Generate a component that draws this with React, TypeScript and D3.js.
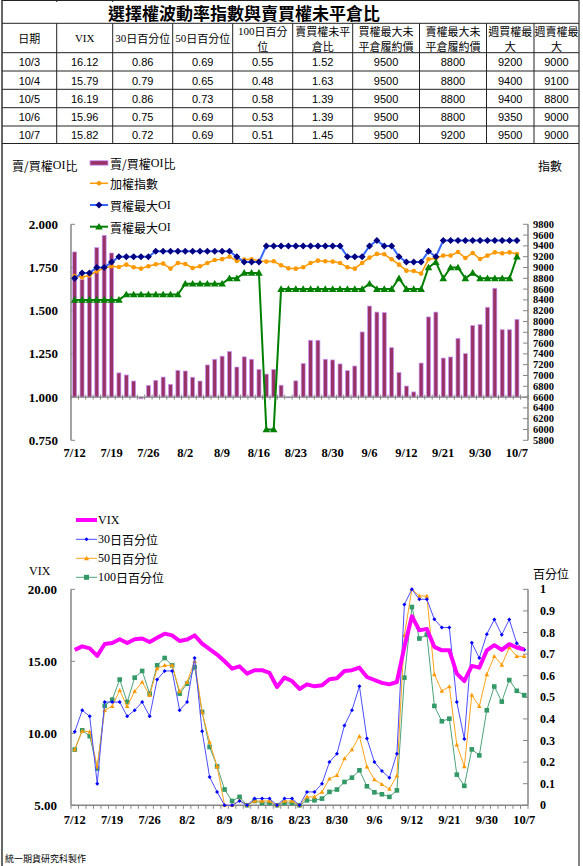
import React from 'react';
import * as d3 from 'd3';

// ---------- table data ----------
const tableHeaders: string[][] = [
  ['日期'], ['VIX'], ['30日百分位'], ['50日百分位'], ['100日百分', '位'],
  ['賣買權未平', '倉比'], ['買權最大未', '平倉履約價'], ['賣權最大未', '平倉履約價'], ['週買權最', '大'], ['週賣權最', '大'],
];
const tableDates = ['10/3', '10/4', '10/5', '10/6', '10/7'];
const tableVix = [16.12, 15.79, 16.19, 15.96, 15.82];
const table30 = [0.86, 0.79, 0.86, 0.75, 0.72];
const table50 = [0.69, 0.65, 0.73, 0.69, 0.69];
const table100 = [0.55, 0.48, 0.58, 0.53, 0.51];
const tableRatio = [1.52, 1.63, 1.39, 1.39, 1.45];
const tableCallMax = [9500, 9500, 9500, 9500, 9500];
const tablePutMax = [8800, 8800, 8800, 8800, 9200];
const tableWeekCall = [9200, 9400, 9400, 9350, 9500];
const tableWeekPut = [9000, 9100, 8800, 9000, 9000];

// ---------- series data ----------
const dates = ['7/12','7/13','7/14','7/15','7/18','7/19','7/20','7/21','7/22','7/25','7/26','7/27','7/28','7/29',
  '8/1','8/2','8/3','8/4','8/5','8/8','8/9','8/10','8/11','8/12','8/15','8/16','8/17','8/18','8/19','8/22','8/23',
  '8/24','8/25','8/26','8/29','8/30','8/31','9/1','9/2','9/5','9/6','9/7','9/8','9/9','9/10','9/12','9/13','9/14',
  '9/19','9/20','9/21','9/22','9/23','9/26','9/29','9/30','10/3','10/4','10/5','10/6','10/7'];
const tickLabels = ['7/12','7/19','7/26','8/2','8/9','8/16','8/23','8/30','9/6','9/12','9/21','9/30','10/7'];

const putCallRatio = [1.84,1.68,1.695,1.865,1.936,1.834,1.14,1.128,1.093,0.99,1.068,1.097,1.116,1.074,1.155,1.151,
  1.115,1.093,1.186,1.219,1.237,1.264,1.174,1.233,1.219,1.16,1.133,1.16,1.069,0.996,1.094,1.194,1.329,1.329,1.219,
  1.215,1.192,1.153,1.18,1.377,1.527,1.492,1.489,1.286,1.142,1.064,1.03,1.197,1.464,1.492,1.226,1.232,1.34,1.252,
  1.414,1.42,1.52,1.63,1.39,1.39,1.45];
const taiex = [8843,8818,8855,8930,8991,9022,9010,9053,9004,8980,9022,9059,9072,8980,9084,9065,8991,9022,9084,9139,
  9155,9200,9121,9146,9152,9121,9109,9115,9041,8985,8979,9004,9084,9127,9115,9109,9084,9004,8979,9084,9183,9252,
  9244,9152,9053,8942,8936,8887,9152,9170,9220,9220,9287,9176,9269,9157,9220,9281,9263,9281,9250];
const callMaxOI = [8800,8900,8900,9000,9000,9100,9200,9200,9200,9200,9200,9300,9300,9300,9300,9300,9300,9300,9300,
  9300,9300,9300,9200,9100,9100,9100,9400,9400,9400,9400,9400,9400,9400,9400,9400,9400,9400,9200,9200,9200,9400,
  9500,9400,9400,9200,9100,9100,9100,9300,9200,9500,9500,9500,9500,9500,9500,9500,9500,9500,9500,9500];
const putMaxOI = [8400,8400,8400,8400,8400,8400,8400,8500,8500,8500,8500,8500,8500,8500,8500,8700,8700,8700,8700,
  8700,8700,8800,8800,8900,8900,8900,6000,6000,8600,8600,8600,8600,8600,8600,8600,8600,8600,8600,8600,8600,8700,
  8600,8600,8600,8800,8600,8600,8600,9000,9100,8800,9000,9000,8800,8900,8800,8800,8800,8800,8800,9200];

const vix = [15.79,16.04,15.9,15.38,16.2,16.27,16.53,16.27,16.53,16.58,16.34,16.63,16.92,16.8,16.41,16.51,16.8,
  16.23,15.84,15.47,15.0,14.49,14.65,14.14,14.38,14.38,14.19,13.22,13.87,13.63,13.08,13.4,13.26,13.33,13.75,13.82,
  14.33,14.38,14.56,13.91,13.7,13.5,13.4,13.56,16.0,18.13,17.15,17.25,16.0,15.76,15.76,14.14,13.63,14.68,14.56,
  15.76,16.12,15.79,16.19,15.96,15.82];
const pct30 = [0.34,0.44,0.412,0.10,0.478,0.478,0.478,0.412,0.44,0.478,0.412,0.582,0.622,0.622,0.44,0.478,0.682,
  0.343,0.131,0.062,0,0,0.02,0,0.031,0.031,0.031,0,0.031,0.031,0,0.062,0.062,0.1,0.2,0.239,0.37,0.44,0.551,0.309,
  0.2,0.159,0.128,0.239,0.93,1.0,0.954,0.954,0.861,0.823,0.823,0.478,0.307,0.752,0.682,0.792,0.86,0.79,0.86,0.75,0.72];
const pct50 = [0.258,0.344,0.34,0.178,0.44,0.458,0.532,0.458,0.528,0.571,0.509,0.633,0.648,0.648,0.528,0.571,0.667,
  0.432,0.293,0.18,0,0,0.023,0,0.02,0.02,0.02,0,0.02,0.02,0,0.039,0.039,0.062,0.123,0.139,0.216,0.258,0.32,0.178,
  0.119,0.097,0.075,0.137,0.787,1.0,0.969,0.969,0.606,0.529,0.55,0.28,0.18,0.51,0.458,0.606,0.69,0.65,0.73,0.69,0.69];
const pct100 = [0.258,0.347,0.32,0.17,0.461,0.489,0.582,0.478,0.591,0.622,0.517,0.648,0.682,0.648,0.517,0.563,0.64,
  0.432,0.27,0.18,0.073,0.02,0.039,0,0.02,0.011,0.011,0,0.011,0.011,0,0.023,0.023,0.031,0.062,0.073,0.108,0.128,
  0.162,0.088,0.06,0.051,0.039,0.069,0.591,0.918,0.772,0.79,0.46,0.389,0.401,0.142,0.09,0.259,0.231,0.44,0.55,0.48,
  0.58,0.53,0.51];

const leftTicksTop = [0.75, 1.0, 1.25, 1.5, 1.75, 2.0];
const rightTicksTop = d3.range(5800, 9801, 200);
const leftTicksBot = [5, 10, 15, 20];
const rightTicksBot = d3.range(0, 11).map((d) => d / 10);

const CJK = "'Noto Sans CJK TC', 'Noto Sans CJK SC', sans-serif";
const SERIF = "'Liberation Serif', 'Times New Roman', serif";
const SANS = "'Liberation Sans', Arial, sans-serif";
const GRAY = '#868686';

const colX = [2, 56.7, 112.7, 172.7, 232.7, 292.7, 352.7, 419.5, 486.5, 534, 579];
const rowY = [23.3, 52.7, 71, 89.3, 107.7, 126, 143.5];

function Diamond({ x, y, r, fill }: { x: number; y: number; r: number; fill: string }) {
  return <path d={`M${x},${y - r}L${x + r},${y}L${x},${y + r}L${x - r},${y}Z`} fill={fill} />;
}
function Tri({ x, y, r, fill }: { x: number; y: number; r: number; fill: string }) {
  return <path d={`M${x},${y - r}L${x + r},${y + r * 0.75}L${x - r},${y + r * 0.75}Z`} fill={fill} />;
}
// CJK text with latin runs set in serif
function Mixed({ text }: { text: string }) {
  const parts = text.split(/([A-Za-z0-9]+)/).filter((p) => p.length > 0);
  return (
    <>
      {parts.map((p, i) =>
        /^[A-Za-z0-9]+$/.test(p) ? <tspan key={i} fontFamily={SERIF}>{p}</tspan> : <tspan key={i}>{p}</tspan>
      )}
    </>
  );
}

export default function App() {
  const rows = tableDates.map((d, i) => [
    d, tableVix[i].toFixed(2), table30[i].toFixed(2), table50[i].toFixed(2), table100[i].toFixed(2),
    tableRatio[i].toFixed(2), String(tableCallMax[i]), String(tablePutMax[i]), String(tableWeekCall[i]), String(tableWeekPut[i]),
  ]);

  const xT = d3.scaleBand<number>().domain(d3.range(62)).range([71, 528]);
  const bwT = xT.bandwidth();
  const cxT = (i: number) => (xT(i) as number) + bwT / 2;
  const yL = d3.scaleLinear().domain([0.75, 2]).range([440.3, 224.3]);
  const yR = d3.scaleLinear().domain([5800, 9800]).range([440.3, 224.3]);
  const lineR = d3.line<number>().x((_, i) => cxT(i)).y((d) => yR(d));

  const xB = d3.scaleBand<number>().domain(d3.range(61)).range([71, 528]);
  const bwB = xB.bandwidth();
  const cxB = (i: number) => (xB(i) as number) + bwB / 2;
  const yV = d3.scaleLinear().domain([5, 20]).range([805.3, 589.3]);
  const yP = d3.scaleLinear().domain([0, 1]).range([805.3, 589.3]);
  const lineV = d3.line<number>().x((_, i) => cxB(i)).y((d) => yV(d));
  const lineP = d3.line<number>().x((_, i) => cxB(i)).y((d) => yP(d));

  const base = yL(1);

  return (
    <svg width={583} height={866} style={{ position: 'absolute', left: 0, top: 0, background: '#fff' }}>
      <rect x={0} y={0} width={583} height={866} fill="#fff" />
      {/* ---------- table ---------- */}
      <g>
        <line x1={2} x2={579} y1={0.5} y2={0.5} stroke="#222" />
        {rowY.map((y, i) => (
          <line key={i} x1={2} x2={579} y1={y} y2={y} stroke="#222" strokeWidth={1} />
        ))}
        {colX.slice(1, -1).map((x, i) => (
          <line key={i} x1={x} x2={x} y1={rowY[0]} y2={rowY[rowY.length - 1]} stroke="#222" />
        ))}
        {colX.slice(1, 3).map((x, i) => (
          <line key={'t' + i} x1={x} x2={x} y1={0} y2={2} stroke="#222" />
        ))}
        <text x={244} y={12} fontFamily={CJK} fontSize={17} fontWeight={700} textAnchor="middle" dominantBaseline="central" fill="#000">
          選擇權波動率指數與賣買權未平倉比
        </text>
        {tableHeaders.map((lines, c) => {
          const cx = (colX[c] + colX[c + 1]) / 2;
          const cy = (rowY[0] + rowY[1]) / 2;
          return lines.map((t, k) => {
            const y = lines.length === 1 ? cy : cy + (k === 0 ? -6.7 : 7.7);
            return (
              <text key={c + '-' + k} x={cx} y={y} fontSize={11} textAnchor="middle" dominantBaseline="central" fill="#000" fontFamily={CJK}>
                <Mixed text={t} />
              </text>
            );
          });
        })}
        {rows.map((r, i) =>
          r.map((v, c) => (
            <text key={i + '-' + c} x={(colX[c] + colX[c + 1]) / 2} y={(rowY[i + 1] + rowY[i + 2]) / 2 + 0.5}
              fontFamily={SANS} fontSize={11} textAnchor="middle" dominantBaseline="central" fill="#000">
              {v}
            </text>
          ))
        )}
      </g>

      {/* ---------- frame ---------- */}
      <line x1={2} x2={2} y1={0} y2={866} stroke="#333" strokeWidth={1.5} />
      <line x1={579} x2={579} y1={0} y2={866} stroke="#333" strokeWidth={1.2} />

      {/* ---------- top chart ---------- */}
      <g>
        <text x={12} y={165} fontFamily={CJK} fontSize={12} dominantBaseline="central" fill="#000"><Mixed text="賣/買權OI比" /></text>
        <text x={538} y={165} fontFamily={CJK} fontSize={12} dominantBaseline="central" fill="#000">指數</text>
        <rect x={90} y={160.7} width={18} height={4.5} fill="#993366" stroke="#CC99FF" strokeWidth={0.8} />
        <text x={110} y={163} fontFamily={CJK} fontSize={12} dominantBaseline="central"><Mixed text="賣/買權OI比" /></text>
        <line x1={90} x2={108} y1={183.3} y2={183.3} stroke="#FF9900" strokeWidth={1.5} />
        <circle cx={99} cy={183.3} r={2.3} fill="#FF9900" />
        <text x={110} y={183.3} fontFamily={CJK} fontSize={12} dominantBaseline="central">加權指數</text>
        <line x1={90} x2={108} y1={205} y2={205} stroke="#3366FF" strokeWidth={2} />
        <Diamond x={99} y={205} r={3.5} fill="#000080" />
        <text x={110} y={205} fontFamily={CJK} fontSize={12} dominantBaseline="central"><Mixed text="買權最大OI" /></text>
        <line x1={90} x2={108} y1={226.7} y2={226.7} stroke="#008000" strokeWidth={2} />
        <Tri x={99} y={226.7} r={3.8} fill="#008000" />
        <text x={110} y={226.7} fontFamily={CJK} fontSize={12} dominantBaseline="central"><Mixed text="賣權最大OI" /></text>

        <line x1={71} x2={71} y1={yL(2)} y2={yL(0.75)} stroke={GRAY} strokeWidth={1.5} />
        {leftTicksTop.map((t) => (
          <g key={t}>
            <line x1={71} x2={75} y1={yL(t)} y2={yL(t)} stroke={GRAY} />
            <text x={58} y={yL(t)} fontFamily={SERIF} fontWeight={700} fontSize={13} textAnchor="end" dominantBaseline="central">
              {t.toFixed(3)}
            </text>
          </g>
        ))}
        <line x1={528} x2={528} y1={yR(9800)} y2={yR(5800)} stroke={GRAY} strokeWidth={1.5} />
        {rightTicksTop.map((t) => (
          <g key={t}>
            <line x1={523} x2={528} y1={yR(t)} y2={yR(t)} stroke={GRAY} />
            <text x={533} y={yR(t)} fontFamily={SERIF} fontWeight={700} fontSize={10.5} dominantBaseline="central">{t}</text>
          </g>
        ))}
        {putCallRatio.map((v, i) => (
          <rect key={i} x={cxT(i) - 2} width={4} y={Math.min(yL(v), base)} height={Math.abs(yL(v) - base)}
            fill="#993366" stroke="#CC99FF" strokeWidth={0.7} />
        ))}
        <line x1={71} x2={528} y1={base} y2={base} stroke={GRAY} strokeWidth={1.2} />
        {d3.range(63).map((i) => (
          <line key={i} x1={71 + i * bwT} x2={71 + i * bwT} y1={base - 2.5} y2={base + 2.5} stroke={GRAY} />
        ))}
        <path d={lineR(taiex) || ''} fill="none" stroke="#FF9900" strokeWidth={1.5} />
        {taiex.map((v, i) => <circle key={i} cx={cxT(i)} cy={yR(v)} r={2.3} fill="#FF9900" />)}
        <path d={lineR(callMaxOI) || ''} fill="none" stroke="#3366FF" strokeWidth={2} />
        {callMaxOI.map((v, i) => <Diamond key={i} x={cxT(i)} y={yR(v)} r={3.5} fill="#000080" />)}
        <path d={lineR(putMaxOI) || ''} fill="none" stroke="#008000" strokeWidth={2} />
        {putMaxOI.map((v, i) => <Tri key={i} x={cxT(i)} y={yR(v)} r={3.8} fill="#008000" />)}
        {dates.map((d, i) =>
          tickLabels.includes(d) ? (
            <text key={d} x={cxT(i)} y={453} fontFamily={SERIF} fontWeight={700} fontSize={12.5} textAnchor="middle" dominantBaseline="central">
              {d}
            </text>
          ) : null
        )}
      </g>

      {/* ---------- bottom chart ---------- */}
      <g>
        <line x1={76} x2={97} y1={520} y2={520} stroke="#FF00FF" strokeWidth={4} />
        <text x={98} y={520} fontFamily={SERIF} fontSize={12} dominantBaseline="central">VIX</text>
        <line x1={76} x2={97} y1={539.3} y2={539.3} stroke="#4D4DFF" strokeWidth={1} />
        <Diamond x={86.5} y={539.3} r={2} fill="#0000FF" />
        <text x={98} y={539.3} fontFamily={CJK} fontSize={12} dominantBaseline="central"><Mixed text="30日百分位" /></text>
        <line x1={76} x2={97} y1={558.3} y2={558.3} stroke="#FFA31A" strokeWidth={1} />
        <Tri x={86.5} y={558.3} r={2.5} fill="#FF9900" />
        <text x={98} y={558.3} fontFamily={CJK} fontSize={12} dominantBaseline="central"><Mixed text="50日百分位" /></text>
        <line x1={76} x2={97} y1={577.3} y2={577.3} stroke="#4DA37A" strokeWidth={1} />
        <rect x={84} y={574.8} width={5} height={5} fill="#339966" />
        <text x={98} y={577.3} fontFamily={CJK} fontSize={12} dominantBaseline="central"><Mixed text="100日百分位" /></text>

        <text x={29} y={571} fontFamily={SERIF} fontSize={12} dominantBaseline="central">VIX</text>
        <text x={533} y={573} fontFamily={CJK} fontSize={12} dominantBaseline="central">百分位</text>

        <line x1={71} x2={71} y1={yV(20)} y2={yV(5)} stroke={GRAY} strokeWidth={1.5} />
        {leftTicksBot.map((t) => (
          <g key={t}>
            <line x1={71} x2={75} y1={yV(t)} y2={yV(t)} stroke={GRAY} />
            <text x={57} y={yV(t)} fontFamily={SERIF} fontWeight={700} fontSize={13} textAnchor="end" dominantBaseline="central">
              {t.toFixed(2)}
            </text>
          </g>
        ))}
        <line x1={528} x2={528} y1={yP(1)} y2={yP(0)} stroke={GRAY} strokeWidth={1.5} />
        {rightTicksBot.map((t) => (
          <g key={t}>
            <line x1={523} x2={528} y1={yP(t)} y2={yP(t)} stroke={GRAY} />
            <text x={540} y={yP(t)} fontFamily={SERIF} fontWeight={700} fontSize={12} dominantBaseline="central">{String(t)}</text>
          </g>
        ))}
        <line x1={71} x2={528} y1={yV(5)} y2={yV(5)} stroke={GRAY} strokeWidth={1.5} />
        {d3.range(62).map((i) => (
          <line key={i} x1={71 + i * bwB} x2={71 + i * bwB} y1={yV(5)} y2={yV(5) + 3.5} stroke={GRAY} />
        ))}

        <path d={lineP(pct100) || ''} fill="none" stroke="#4DA37A" strokeWidth={1} />
        {pct100.map((v, i) => <rect key={i} x={cxB(i) - 2.3} y={yP(v) - 2.3} width={4.6} height={4.6} fill="#339966" />)}
        <path d={lineP(pct50) || ''} fill="none" stroke="#FFA31A" strokeWidth={1} />
        {pct50.map((v, i) => <Tri key={i} x={cxB(i)} y={yP(v)} r={2.3} fill="#FF9900" />)}
        <path d={lineP(pct30) || ''} fill="none" stroke="#4D4DFF" strokeWidth={1} />
        {pct30.map((v, i) => <Diamond key={i} x={cxB(i)} y={yP(v)} r={2} fill="#0000FF" />)}
        <path d={lineV(vix) || ''} fill="none" stroke="#FF00FF" strokeWidth={4} strokeLinejoin="round" />

        {dates.map((d, i) =>
          tickLabels.includes(d) ? (
            <text key={d} x={cxB(i)} y={820} fontFamily={SERIF} fontWeight={700} fontSize={12.5} textAnchor="middle" dominantBaseline="central">
              {d}
            </text>
          ) : null
        )}
      </g>

      <text x={5} y={858} fontFamily={CJK} fontSize={9} dominantBaseline="central" fill="#000">統一期貨研究科製作</text>
    </svg>
  );
}
